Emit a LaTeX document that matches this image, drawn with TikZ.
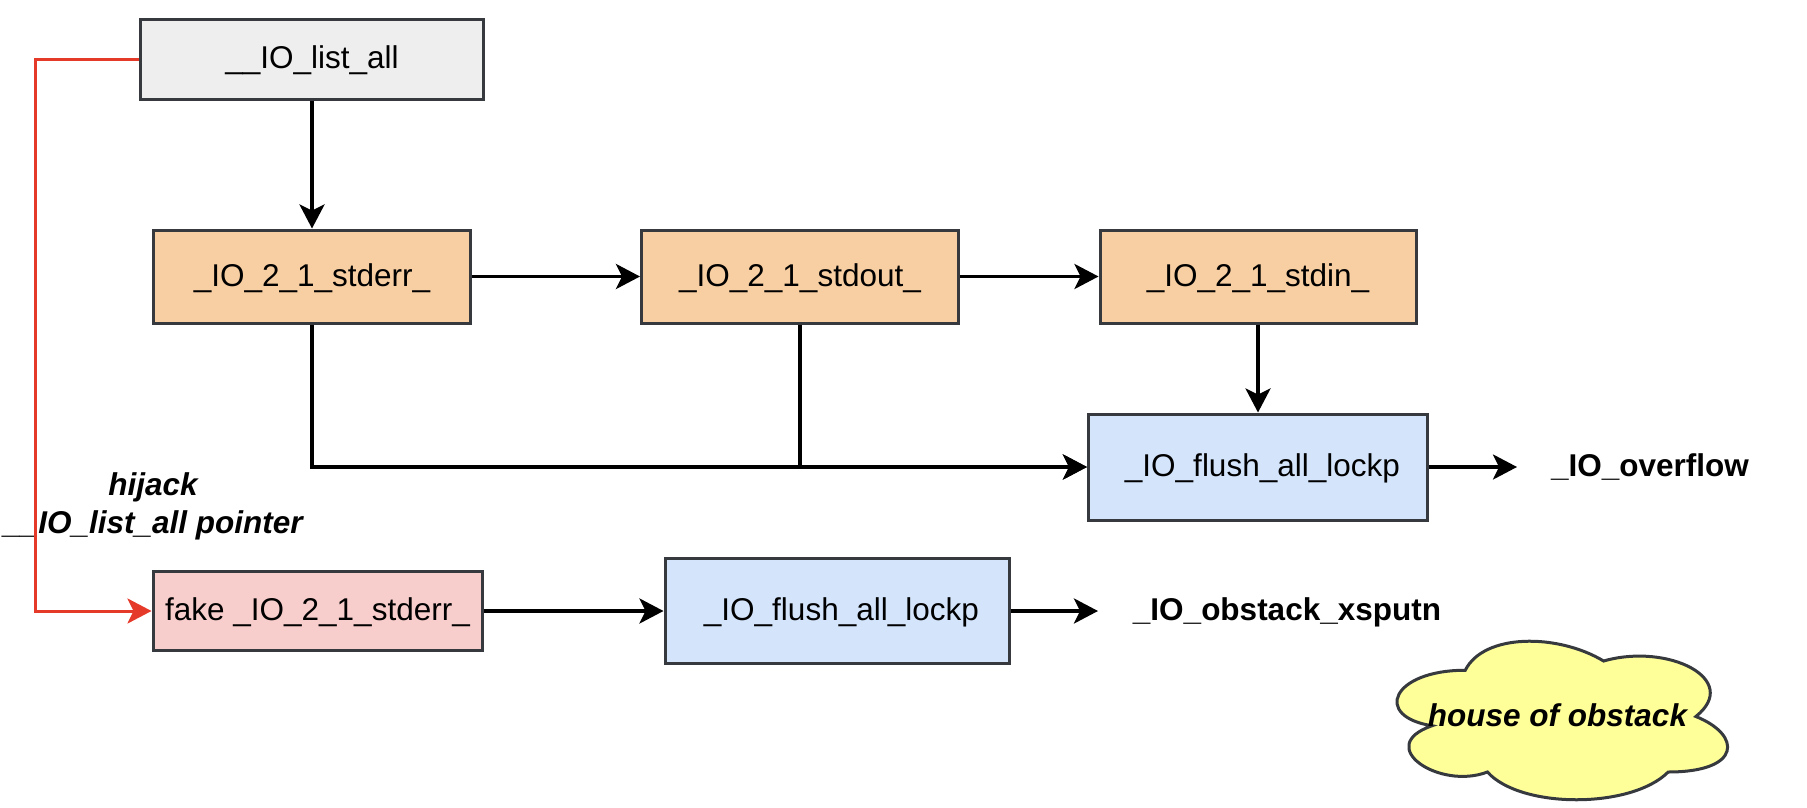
\documentclass[tikz,border=0pt]{standalone}
\usepackage{fontspec}
\setmainfont{Liberation Sans}
\usetikzlibrary{arrows.meta}
\definecolor{strk}{HTML}{36393D}
\definecolor{grayfill}{HTML}{EEEEEE}
\definecolor{orangefill}{HTML}{F8CFA2}
\definecolor{bluefill}{HTML}{D4E5FB}
\definecolor{pinkfill}{HTML}{F8CECC}
\definecolor{yellowfill}{HTML}{FFFF99}
\definecolor{redline}{HTML}{E5392A}
\tikzset{
  txt/.style={font=\fontsize{31.5pt}{38pt}\selectfont, text height=23pt, text depth=4pt, inner sep=0pt},
  boxn/.style={txt, draw=strk, line width=3pt, minimum width=#1},
  conn/.style={line width=3.3pt, -{Stealth[length=24pt,width=25pt,inset=6pt]}},
  redconn/.style={conn, draw=redline, color=redline},
  lbl/.style={txt, font=\fontsize{31.5pt}{38pt}\selectfont\bfseries},
}
\begin{document}
\begin{tikzpicture}[x=1pt,y=-1pt]
\useasboundingbox (0,0) rectangle (1807,808);
% boxes
\node[boxn=343pt, minimum height=79pt, fill=grayfill] (list) at (312,59.5) {\_\_IO\_list\_all};
\node[boxn=317pt, minimum height=93pt, fill=orangefill] (stderr) at (312,276.5) {\_IO\_2\_1\_stderr\_};
\node[boxn=317pt, minimum height=93pt, fill=orangefill] (stdout) at (800,276.5) {\_IO\_2\_1\_stdout\_};
\node[boxn=316pt, minimum height=93pt, fill=orangefill] (stdin) at (1258,276.5) {\_IO\_2\_1\_stdin\_};
\node[boxn=339pt, minimum height=106pt, fill=bluefill] (flush1) at (1258,467) {\hspace*{8.8pt}\_IO\_flush\_all\_lockp};
\node[boxn=329pt, minimum height=79pt, fill=pinkfill] (fake) at (317.5,611) {fake \_IO\_2\_1\_stderr\_};
\node[boxn=344pt, minimum height=105pt, fill=bluefill] (flush2) at (837,611) {\hspace*{8.8pt}\_IO\_flush\_all\_lockp};
% labels
\node[lbl] (overflow) at (1650,467) {\_IO\_overflow};
\coordinate (ovtip) at (1517,467);
\node[lbl] (xsputn) at (1287,611) {\_IO\_obstack\_xsputn};
\coordinate (xstip) at (1098,611);
\node[lbl, font=\fontsize{31.5pt}{38pt}\selectfont\bfseries\itshape, align=center, text height=, text depth=] (hijack) at (153,506) {hijack\\\_\_IO\_list\_all pointer};
% cloud
\begin{scope}[shift={(1373,624)}, x=369pt, y=-185pt]
\draw[draw=strk, line width=3pt, fill=yellowfill]
  (0.25,0.25) .. controls (0.05,0.25) and (0,0.5) .. (0.16,0.55)
  .. controls (0,0.66) and (0.18,0.9) .. (0.31,0.8)
  .. controls (0.4,1) and (0.7,1) .. (0.8,0.8)
  .. controls (1,0.8) and (1,0.6) .. (0.875,0.5)
  .. controls (1,0.3) and (0.8,0.1) .. (0.625,0.2)
  .. controls (0.5,0.05) and (0.3,0.05) .. (0.25,0.25) -- cycle;
\end{scope}
\node[lbl, font=\fontsize{31.5pt}{38pt}\selectfont\bfseries\itshape] (house) at (1557.5,716.5) {house of obstack};
% connectors
\draw[conn] (list.south) -- (stderr.north);
\draw[conn] (stderr.east) -- (stdout.west);
\draw[conn] (stdout.east) -- (stdin.west);
\draw[conn] (stdin.south) -- (flush1.north);
\draw[conn] (stderr.south) |- (flush1.west);
\draw[conn] (stdout.south) |- (flush1.west);
\draw[conn] (flush1.east) -- (ovtip);
\draw[conn] (fake.east) -- (flush2.west);
\draw[conn] (flush2.east) -- (xstip);
\coordinate (rtop) at (35,59.5);
\coordinate (rbot) at (35,611);
\draw[redconn, line width=3pt] (list.west) -- (rtop) -- (rbot) -- (fake.west);
\end{tikzpicture}
\end{document}
